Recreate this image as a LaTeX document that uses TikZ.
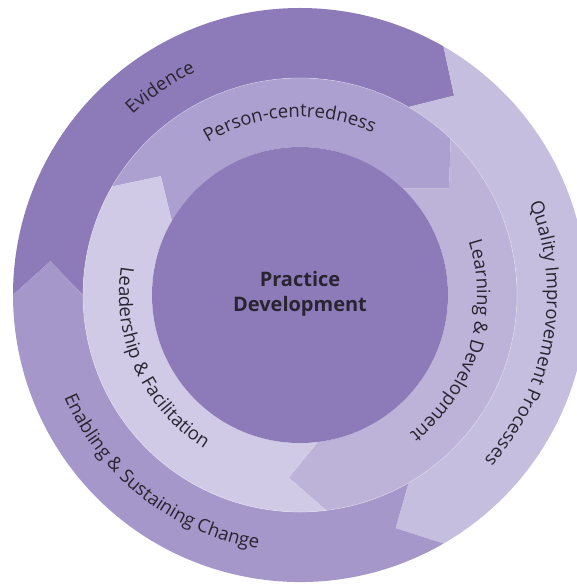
\documentclass[tikz,border=0pt]{standalone}
\usepackage{fontspec}
\setmainfont{Open Sans}
\usetikzlibrary{decorations.text}
\definecolor{evid}{HTML}{8C7BB8}
\definecolor{qual}{HTML}{C6BEDF}
\definecolor{enab}{HTML}{A597C9}
\definecolor{pers}{HTML}{ABA0CF}
\definecolor{lear}{HTML}{BDB3D8}
\definecolor{lead}{HTML}{D0CAE6}
\definecolor{core}{HTML}{8C7BB8}
\definecolor{txt}{HTML}{2A2430}
% R1 R2 Rm startangle endangle tipoffset colour
\newcommand{\chevseg}[7]{%
  \fill[#7] (#4:#2) arc[start angle=#4, end angle=#5, radius=#2]
    -- ({#5-#6}:#3) -- (#5:#1)
    arc[start angle=#5, end angle=#4, radius=#1]
    -- ({#4-#6}:#3) -- cycle;}
\tikzset{
  ringdeco/.style={decorate, decoration={text along path, text align=center,
     text color=txt}}
}
\begin{document}
\begin{tikzpicture}
\fontsize{18.5}{18.5}\selectfont
\useasboundingbox (-300pt,-290pt) rectangle (276pt,295pt);
% outer ring
\chevseg{217pt}{287pt}{252pt}{180}{60}{7.7}{evid}
\chevseg{217pt}{287pt}{252pt}{60}{-60}{7.7}{qual}
\chevseg{217pt}{287pt}{252pt}{-60}{-180}{7.7}{enab}
% inner ring
\chevseg{148pt}{217pt}{183pt}{150}{46}{10.5}{pers}
\chevseg{148pt}{217pt}{183pt}{46}{-83}{10.5}{lear}
\chevseg{148pt}{217pt}{183pt}{-83}{-210}{10.5}{lead}
\draw[white, opacity=0.3, line width=0.7pt] (0,0) circle[radius=217pt];
% core
\fill[core] (0,0) circle[radius=148pt];
\node[font=\bfseries\fontsize{20}{25}\selectfont, align=center, text=txt] (pd) at (0,1pt) {Practice\\Development};
% ring labels
\path[ringdeco, decoration={text={Evidence}}] (150:246pt) arc[start angle=150, end angle=98, radius=246pt];
\path[ringdeco, decoration={text={Quality Improvement Processes}}] (50:247pt) arc[start angle=50, end angle=-70, radius=247pt];
\path[ringdeco, decoration={text={Enabling {\&} Sustaining Change}}] (175:257pt) arc[start angle=175, end angle=289, radius=257pt];
\path[ringdeco, decoration={text={Person-centredness}}] (145:178pt) arc[start angle=145, end angle=42, radius=178pt];
\path[ringdeco, decoration={text={Learning {\&} Development}}] (40:177pt) arc[start angle=40, end angle=-74, radius=177pt];
\path[ringdeco, decoration={text={Leadership {\&} Facilitation}}] (150:181pt) arc[start angle=150, end angle=259, radius=181pt];
\end{tikzpicture}
\end{document}
